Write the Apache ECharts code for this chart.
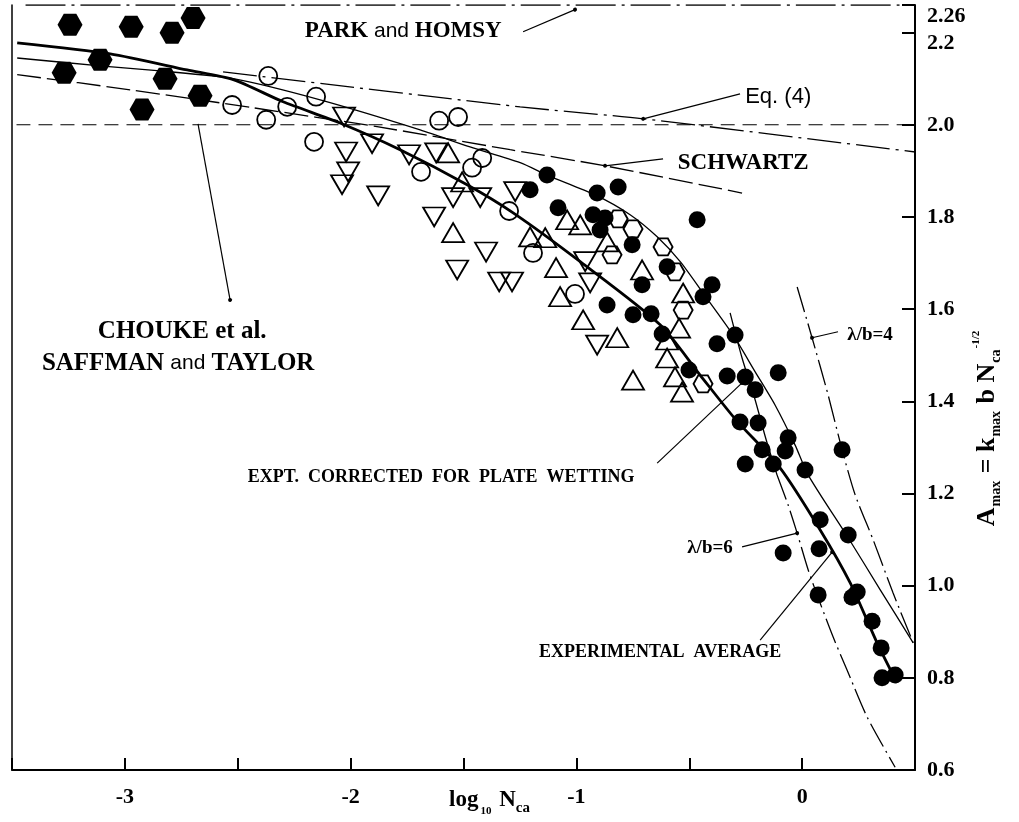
<!DOCTYPE html>
<html>
<head>
<meta charset="utf-8">
<script src="https://cdn.jsdelivr.net/npm/echarts@6.0.0/dist/echarts.min.js"></script>
</head>
<body style="margin:0;background:#fff">
<div id="container" style="width:1019px;height:822px"></div>
<script>
// markers, [log10 Nca, Amax]
var hexFilled = [[-3.243,2.217],[-2.972,2.213],[-2.791,2.200],[-2.698,2.232],[-3.110,2.141],
    [-3.269,2.113],[-2.822,2.100],[-2.667,2.063],[-2.924,2.033]];
var circleOpen = [[-2.365,2.106],[-2.153,2.061],[-2.281,2.039],[-2.525,2.043],[-2.374,2.011],
    [-2.162,1.963],[-1.608,2.009],[-1.524,2.017],[-1.688,1.898],[-1.417,1.928],[-1.462,1.907],
    [-1.298,1.813],[-1.192,1.722],[-1.006,1.633]];
var triDown = [[-2.029,2.017],[-2.020,1.941],[-1.905,1.959],[-2.011,1.898],[-2.038,1.870],
    [-1.878,1.846],[-1.741,1.935],[-1.621,1.939],[-1.546,1.842],[-1.630,1.800],[-1.426,1.842],
    [-1.271,1.855],[-1.400,1.724],[-1.528,1.685],[-1.342,1.659],[-1.285,1.659],[-0.961,1.703],
    [-0.939,1.657],[-0.908,1.522]];
var triUp = [[-1.568,1.939],[-1.506,1.876],[-1.546,1.766],[-1.205,1.757],[-1.138,1.755],
    [-1.090,1.690],[-1.072,1.627],[-0.970,1.577],[-1.041,1.794],[-0.983,1.783],[-0.864,1.746],
    [-0.709,1.685],[-0.527,1.635],[-0.819,1.538],[-0.545,1.559],[-0.598,1.533],[-0.598,1.494],
    [-0.749,1.446],[-0.563,1.453],[-0.532,1.420]];
var hexOpen = [[-0.815,1.796],[-0.749,1.774],[-0.616,1.735],[-0.842,1.718],[-0.563,1.681],
    [-0.527,1.598],[-0.439,1.438]];
var circleFilled = [[-1.205,1.859],[-1.130,1.891],[-0.908,1.852],[-0.815,1.865],[-1.081,1.820],
    [-0.926,1.805],[-0.873,1.798],[-0.895,1.772],[-0.465,1.794],[-0.753,1.740],[-0.598,1.692],
    [-0.709,1.653],[-0.864,1.609],[-0.749,1.588],[-0.669,1.590],[-0.399,1.653],[-0.439,1.627],
    [-0.620,1.546],[-0.377,1.525],[-0.297,1.544],[-0.501,1.468],[-0.332,1.455],[-0.252,1.453],
    [-0.208,1.425],[-0.106,1.462],[-0.275,1.355],[-0.195,1.353],[-0.177,1.295],[-0.252,1.264],
    [-0.128,1.264],[-0.075,1.292],[-0.062,1.321],[0.013,1.251],[0.177,1.295],[0.080,1.143],
    [0.204,1.110],[0.075,1.080],[-0.084,1.071],[0.071,0.980],[0.221,0.975],[0.244,0.986],
    [0.310,0.923],[0.350,0.865],[0.354,0.800],[0.412,0.806]];

// curves
var avgCurve = [[-3.477,2.178],[-3.065,2.154],[-2.724,2.119],[-2.520,2.098],[-2.299,2.050],
    [-2.047,2.004],[-1.781,1.946],[-1.484,1.870],[-1.280,1.809],[-0.983,1.703],[-0.629,1.566],
    [-0.452,1.457],[-0.297,1.362],[-0.097,1.255],[0.080,1.121],[0.213,1.006],[0.332,0.876],
    [0.421,0.789]];
var wettingCurve = [[-3.477,2.145],[-3.110,2.128],[-2.844,2.117],[-2.520,2.100],[-2.135,2.054],
    [-1.692,1.989],[-1.471,1.952],[-1.249,1.918],[-1.130,1.891],[-0.917,1.848],[-0.762,1.805],
    [-0.642,1.757],[-0.540,1.703],[-0.439,1.635],[-0.306,1.544],[-0.208,1.464],[-0.120,1.392],
    [-0.031,1.305],[0.027,1.240],[0.204,1.104],[0.346,0.991],[0.492,0.876]];
var schwartzCurve = [[-3.477,2.109],[-2.977,2.076],[-2.432,2.037],[-1.883,1.996],[-1.293,1.946],
    [-0.873,1.911],[-0.266,1.852]];
var eq4Curve = [[-2.565,2.115],[-1.249,2.039],[-0.704,2.013],[0.501,1.941]];
var lambda4Curve = [[-0.022,1.648],[0.044,1.538],[0.115,1.414],[0.177,1.295],[0.235,1.197],
    [0.315,1.099],[0.403,0.984],[0.492,0.876]];
var lambda6Solid = [[-0.319,1.592],[-0.266,1.494],[-0.208,1.403],[-0.159,1.316],[-0.111,1.240]];
var lambda6Dashed = [[-0.111,1.240],[-0.062,1.175],[-0.022,1.114],[0.027,1.034],[0.080,0.962],
    [0.137,0.889],[0.199,0.817],[0.288,0.715],[0.412,0.606]];
var parkHomsy = [[-3.44,2.26],[0.5,2.26]];
var choukeSaffman = [[-3.48,2.0],[0.5,2.0]];

// annotations
var notes = [
    {text: 'PARK {s|and} HOMSY', x: -1.767, y: 2.204},
    {text: '{e|Eq. (4)}', x: -0.106, y: 2.061},
    {text: 'SCHWARTZ', x: -0.261, y: 1.918},
    {text: 'CHOUKE et al.', x: -2.746, y: 1.551},
    {text: 'SAFFMAN {s|and} TAYLOR', x: -2.764, y: 1.483},
    {text: 'EXPT.  CORRECTED  FOR  PLATE  WETTING', x: -1.599, y: 1.236},
    {text: 'λ/b=4', x: 0.301, y: 1.544},
    {text: 'λ/b=6', x: -0.408, y: 1.082},
    {text: 'EXPERIMENTAL  AVERAGE', x: -0.629, y: 0.856}
];
var noteFont = [23, 22, 23, 25, 25, 18, 19, 19, 18];
var leaders = [[-1.236,2.202,-1.006,2.250],[-0.275,2.067,-0.704,2.013],[-0.616,1.926,-0.873,1.911],
    [-2.676,2.002,-2.534,1.620],[-0.642,1.266,-0.266,1.440],[0.159,1.551,0.044,1.538],
    [-0.266,1.084,-0.022,1.114],[-0.186,0.882,0.133,1.073]];

var serif = 'Liberation Serif';
var hexPath = 'path://M0,8.66L5,0L15,0L20,8.66L15,17.32L5,17.32Z';

var dom = document.getElementById('container');
var myChart = echarts.init(dom);

function curve(data, width, type) {
    return {
        type: 'line', data: data, showSymbol: false, symbol: 'none', silent: true, z: 2,
        smooth: 0.25, lineStyle: {color: '#000', width: width, type: type, opacity: 1}
    };
}
function marks(data, symbol, size, filled, rotate) {
    return {
        type: 'scatter', data: data, symbol: symbol, symbolSize: size, symbolRotate: rotate || 0,
        silent: true, z: 3,
        itemStyle: filled ? {color: '#000', opacity: 1} :
            {color: 'rgba(255,255,255,0)', borderColor: '#000', borderWidth: 1.8, opacity: 1}
    };
}

var option = {
    backgroundColor: '#fff',
    animation: false,
    grid: {left: 12, right: 104, top: 5, bottom: 52, outerBoundsMode: 'none', containLabel: false},
    xAxis: {
        type: 'value', min: -3.5, max: 0.5, interval: 0.5,
        axisLine: {onZero: false, lineStyle: {color: '#000', width: 2}},
        axisTick: {inside: true, length: 12, lineStyle: {color: '#000', width: 2}},
        splitLine: {show: false},
        axisLabel: {
            margin: 16, color: '#000', fontFamily: serif, fontWeight: 'bold', fontSize: 22,
            formatter: function (v) {
                var r = Math.round(v * 2) / 2;
                return (r % 1 === 0) && r >= -3 && r <= 0 ? String(r) : '';
            }
        },
        name: 'log{sub|10} N{sub2|ca}',
        nameLocation: 'middle', nameGap: 14, nameMoveOverlap: false,
        nameTextStyle: {
            color: '#000', fontFamily: serif, fontWeight: 'bold', fontSize: 23,
            padding: [0, 0, 0, 52],
            rich: {
                sub: {fontFamily: serif, fontWeight: 'bold', fontSize: 11, color: '#000', padding: [22, 2, 0, 2]},
                sub2: {fontFamily: serif, fontWeight: 'bold', fontSize: 15, color: '#000', padding: [16, 0, 0, 0]}
            }
        }
    },
    yAxis: [{
        type: 'value', position: 'right', min: 0.6, max: 2.26, interval: 0.2,
        axisLine: {show: true, onZero: false, lineStyle: {color: '#000', width: 2}},
        axisTick: {show: true, inside: true, length: 13, lineStyle: {color: '#000', width: 2}},
        splitLine: {show: false},
        axisLabel: {
            margin: 12, color: '#000', fontFamily: serif, fontWeight: 'bold', fontSize: 22,
            showMinLabel: true, showMaxLabel: true,
            formatter: function (v) {
                if (Math.abs(v - 2.26) < 0.001) return '{t|2.26}';
                if (Math.abs(v - 2.2) < 0.001) return '{t|2.2}';
                return v.toFixed(1);
            },
            rich: {t: {fontFamily: serif, fontWeight: 'bold', fontSize: 22, color: '#000', padding: [22, 0, 0, 0]}}
        },
        name: 'A{sub|max} = k{sub|max} b N{sub|ca}{sup|-1/2}',
        nameLocation: 'middle', nameRotate: 90, nameGap: 56, nameMoveOverlap: false,
        nameTextStyle: {
            color: '#000', fontFamily: serif, fontWeight: 'bold', fontSize: 26,
            padding: [0, 82, 0, 0],
            rich: {
                sub: {fontFamily: serif, fontWeight: 'bold', fontSize: 14, color: '#000', padding: [18, 1, 0, 1]},
                sup: {fontFamily: serif, fontWeight: 'bold', fontSize: 11, color: '#000', padding: [0, 0, 22, 0]}
            }
        }
    }, {
        type: 'value', position: 'left', min: 0.6, max: 2.26,
        axisLine: {show: true, onZero: false, lineStyle: {color: '#000', width: 1.5}},
        axisTick: {show: false}, axisLabel: {show: false}, splitLine: {show: false}
    }],
    series: [
        curve(parkHomsy, 1.3, [40, 6, 3, 6]),
        curve(choukeSaffman, 1.1, [14, 8]),
        curve(eq4Curve, 1.3, [34, 6, 3, 6]),
        curve(schwartzCurve, 1.3, [24, 6]),
        curve(wettingCurve, 1.3, 'solid'),
        curve(avgCurve, 2.8, 'solid'),
        curve(lambda4Curve, 1.3, [26, 5, 2, 5]),
        curve(lambda6Solid, 1.3, 'solid'),
        curve(lambda6Dashed, 1.3, [26, 5, 2, 5]),
        marks(hexFilled, hexPath, [25, 22], true),
        marks(circleOpen, 'circle', 18, false),
        marks(triDown, 'triangle', [22, 19], false, 180),
        marks(triUp, 'triangle', [22, 19], false),
        marks(hexOpen, hexPath, [19, 17], false),
        marks(circleFilled, 'circle', 17, true),
        {
            type: 'scatter', silent: true, z: 4, symbolSize: 1,
            itemStyle: {color: 'rgba(0,0,0,0)', opacity: 1},
            data: notes.map(function (n, i) {
                return {name: n.text, value: [n.x, n.y], label: {fontSize: noteFont[i]}};
            }),
            label: {
                show: true, position: 'inside', color: '#000', opacity: 1,
                fontFamily: serif, fontWeight: 'bold',
                formatter: function (p) { return p.name; },
                rich: {
                    s: {fontFamily: 'Liberation Sans', fontWeight: 'normal', fontSize: 21, color: '#000'},
                    e: {fontFamily: 'Liberation Sans', fontWeight: 'normal', fontSize: 22, color: '#000'}
                }
            },
            markLine: {
                silent: true, animation: false,
                symbol: ['none', 'circle'], symbolSize: 4,
                label: {show: false},
                lineStyle: {color: '#000', width: 1.2, type: 'solid', opacity: 1},
                data: leaders.map(function (l) {
                    return [{coord: [l[0], l[1]]}, {coord: [l[2], l[3]]}];
                })
            }
        }
    ]
};

myChart.setOption(option, true);
</script>
</body>
</html>
